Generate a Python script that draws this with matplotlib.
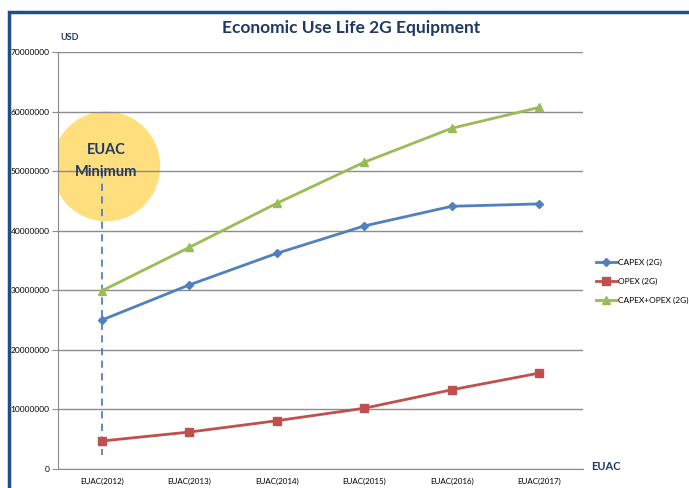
import numpy as np
import matplotlib.pyplot as plt
from matplotlib.patches import Ellipse, Rectangle

categories = ['EUAC(2012)', 'EUAC(2013)', 'EUAC(2014)', 'EUAC(2015)', 'EUAC(2016)', 'EUAC(2017)']
capex = [25.0e6, 30.9e6, 36.2e6, 40.8e6, 44.1e6, 44.5e6]
opex = [4.7e6, 6.2e6, 8.1e6, 10.2e6, 13.3e6, 16.1e6]
capex_opex = [29.9e6, 37.2e6, 44.6e6, 51.5e6, 57.2e6, 60.7e6]
y_ticks = [0, 10000000, 20000000, 30000000, 40000000, 50000000, 60000000, 70000000]

navy = '#1F3864'
fig = plt.figure(figsize=(6.89, 4.88), dpi=100)
ax = fig.add_axes([58/689, 19/488, 525/689, 417/488])

x = np.arange(len(categories))
ax.set_xlim(-0.5, len(categories) - 0.5)
ax.set_ylim(0, 70000000)

ax.set_yticks(y_ticks)
ax.set_yticklabels([str(v) for v in y_ticks], fontsize=6, family='Lato')
ax.set_xticks(x)
ax.set_xticklabels(categories, fontsize=5.8, family='Lato')
ax.tick_params(axis='x', length=0, pad=6)
ax.tick_params(axis='y', length=4, color='#8c8c8c', pad=2)
ax.grid(axis='y', color='#8c8c8c', linewidth=1, zorder=0.6)
ax.set_axisbelow(True)
for s in ['top', 'right']:
    ax.spines[s].set_visible(False)
for s in ['left', 'bottom']:
    ax.spines[s].set_color('#8c8c8c')

# highlight bubble, sized in pixels so it stays round
px_per_x = 525 / 6
px_per_y = 417 / 70e6
ax.add_patch(Ellipse((0.05, 50.8e6), 108 / px_per_x, 110 / px_per_y,
                     facecolor='#FFD966', edgecolor='none', alpha=0.85, zorder=0.4))
ax.text(0.05, 53.5e6, 'EUAC', ha='center', va='center', fontsize=10.5, fontweight='bold', color=navy, family='Lato', zorder=3)
ax.text(0.05, 49.8e6, 'Minimum', ha='center', va='center', fontsize=10.5, fontweight='bold', color=navy, family='Lato', zorder=3)
ax.plot([0, 0], [50e6, 2.3e6], color='#4F81BD', linestyle=(0, (4, 3)), linewidth=1.3, zorder=2)

ax.plot(x, capex, color='#4F81BD', marker='D', markersize=4.5, linewidth=2, label='CAPEX (2G)', zorder=4)
ax.plot(x, opex, color='#C0504D', marker='s', markersize=6, linewidth=2, label='OPEX (2G)', zorder=4)
ax.plot(x, capex_opex, color='#9BBB59', marker='^', markersize=6, linewidth=2, label='CAPEX+OPEX (2G)', zorder=4)

ax.legend(loc='center left', bbox_to_anchor=(1.01, 0.45), frameon=False,
          prop={'family': 'Lato', 'size': 6}, handlelength=2.5, handletextpad=0.2, labelspacing=1.4)

fig.text(351/689, 1 - 28/488, 'Economic Use Life 2G Equipment', ha='center', va='center',
         fontsize=12.5, fontweight='bold', color=navy, family='Lato')
fig.text(70/689, 1 - 37/488, 'USD', ha='center', va='center', fontsize=6.5, fontweight='bold', color=navy, family='Lato')
fig.text(606/689, 1 - 466/488, 'EUAC', ha='center', va='center', fontsize=8, fontweight='bold', color=navy, family='Lato')

fig.patches.append(Rectangle((9/689, -0.1), 1.2, 1 - 12/488 + 0.1, transform=fig.transFigure,
                             fill=False, edgecolor='#1F4E89', linewidth=2.5))

fig.savefig('out.png', dpi=100)
